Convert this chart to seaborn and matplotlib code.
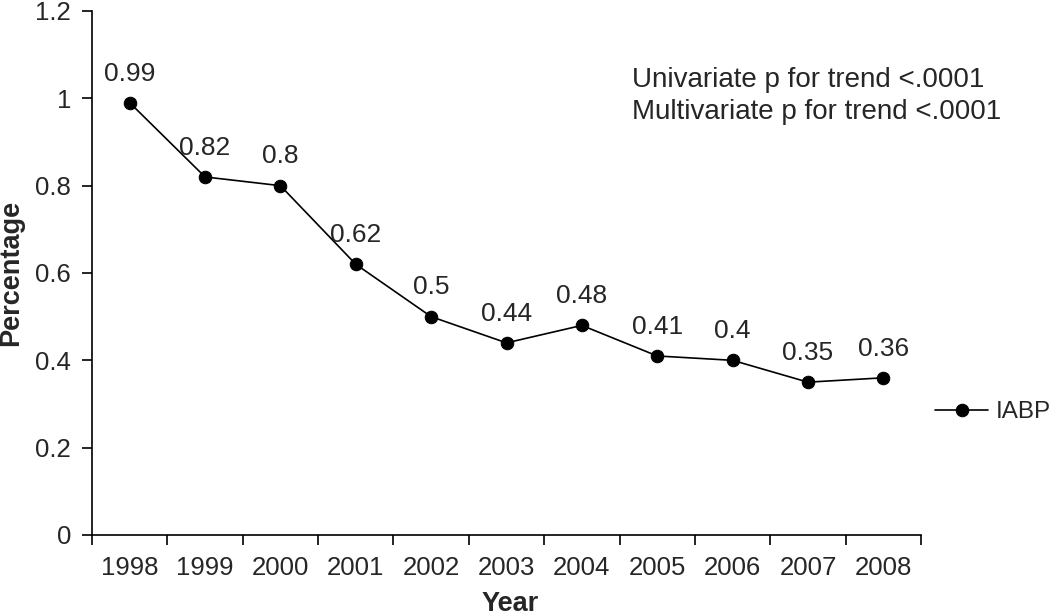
import matplotlib
matplotlib.use("Agg")
import matplotlib.pyplot as plt
import seaborn as sns
import pandas as pd
import numpy as np

years = ["1998", "1999", "2000", "2001", "2002", "2003", "2004", "2005", "2006", "2007", "2008"]
iabp = [0.99, 0.82, 0.80, 0.62, 0.50, 0.44, 0.48, 0.41, 0.40, 0.35, 0.36]
value_labels = ["0.99", "0.82", "0.8", "0.62", "0.5", "0.44", "0.48", "0.41", "0.4", "0.35", "0.36"]
y_ticks = [0, 0.2, 0.4, 0.6, 0.8, 1.0, 1.2]
y_ticklabels = ["0", "0.2", "0.4", "0.6", "0.8", "1", "1.2"]
series_name = "IABP"
notes = ["Univariate p for trend <.0001", "Multivariate p for trend <.0001"]

sns.set_style("ticks")
plt.rcParams["font.family"] = ["Liberation Sans", "DejaVu Sans"]

df = pd.DataFrame({"pos": np.arange(len(years)), "value": iabp, "series": series_name})

fig = plt.figure(figsize=(10.5, 6.15), dpi=100)
ax = fig.add_axes([92/1050, 80/615, (921-92)/1050, (535-11)/615])

sns.lineplot(data=df, x="pos", y="value", hue="series", palette=["black"],
             marker="o", markersize=9, linewidth=1.2, markeredgecolor="black",
             ax=ax, legend=True)

for x, y, lab in zip(df["pos"], iabp, value_labels):
    ax.annotate(lab, (x, y), xytext=(0, 21), textcoords="offset points",
                ha="center", va="center", fontsize=19)

ax.set_xlim(-0.5, len(years) - 0.5)
ax.set_ylim(0, 1.2)
ax.set_xticks(np.arange(len(years)))
ax.set_xticklabels(years, fontsize=18.5)
ax.set_xticks(np.arange(len(years) + 1) - 0.5, minor=True)
ax.tick_params(axis="x", which="major", length=0, pad=15)
ax.tick_params(axis="x", which="minor", length=7, width=1.2, color="black", direction="out")
ax.set_yticks(y_ticks)
ax.set_yticklabels(y_ticklabels, fontsize=18.5)
ax.tick_params(axis="y", length=7, width=1.2, color="black", direction="out", pad=8)

for s in ["top", "right"]:
    ax.spines[s].set_visible(False)
for s in ["left", "bottom"]:
    ax.spines[s].set_color("black")
    ax.spines[s].set_linewidth(1.2)

ax.set_xlabel("Year", fontsize=19.5, fontweight="bold")
ax.set_ylabel("Percentage", fontsize=19.5, fontweight="bold")
ax.xaxis.set_label_coords(0.505, -0.107)
ax.yaxis.set_label_coords(-0.082, 0.5)

ax.text(6.66, (535 - 80) / 436.7, notes[0], fontsize=20, ha="left", va="center")
ax.text(6.66, (535 - 112) / 436.7, notes[1], fontsize=20, ha="left", va="center")

leg = ax.legend(loc="center left", bbox_to_anchor=(913/1050, 0.33),
                bbox_transform=fig.transFigure, frameon=False, fontsize=17.5,
                handlelength=2.2, handletextpad=0.3)

fig.savefig("out.png", dpi=100)
